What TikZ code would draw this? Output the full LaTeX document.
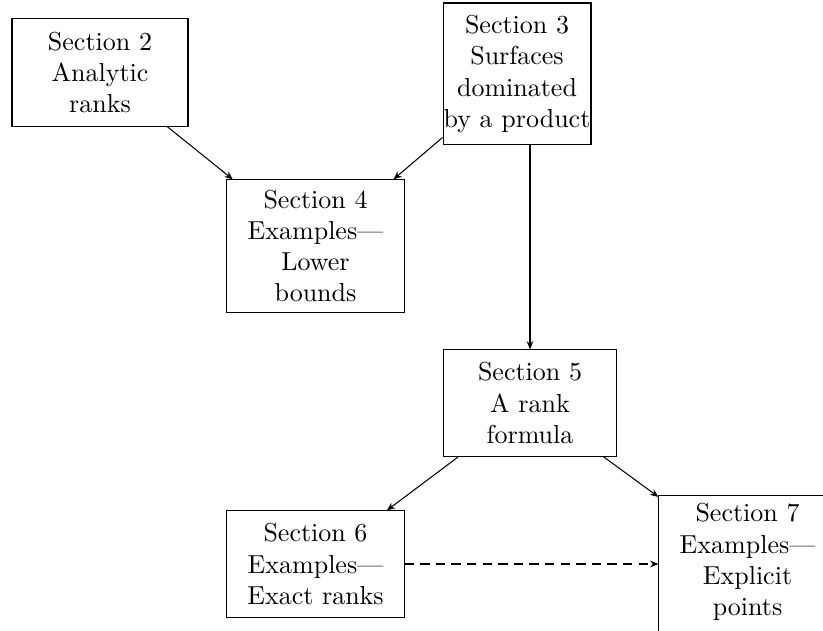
\documentclass[tikz,border=0pt]{standalone}
\usetikzlibrary{arrows.meta}
\begin{document}
\begin{tikzpicture}[x=0.3846pt,y=-0.3846pt,
  secbox/.style={draw,align=center,inner sep=0pt,font=\normalsize},
  arr/.style={-{Stealth[length=3.2pt,width=2.6pt]},line width=0.4pt},
  darr/.style={arr,dash pattern=on 3.6pt off 2.4pt}]
\useasboundingbox (0,0) rectangle (823,631);
\node[secbox,minimum width=67.7pt,minimum height=41.2pt] (s2) at (100,72.5) {Section 2\\Analytic\\ranks};
\node[secbox,minimum width=56.9pt,minimum height=54.6pt] (s3) at (517,74) {Section 3\\Surfaces\\dominated\\by a product};
\node[secbox,minimum width=68.1pt,minimum height=50.8pt] (s4) at (315.5,246) {Section 4\\Examples---\\Lower\\bounds};
\node[secbox,minimum width=66.2pt,minimum height=40.8pt] (s5) at (530,403) {Section 5\\A rank\\formula};
\node[secbox,minimum width=68.1pt,minimum height=40.8pt] (s6) at (315.5,564) {Section 6\\Examples---\\Exact ranks};
\node[align=center,inner sep=0pt,minimum width=68.1pt,minimum height=50.8pt] (s7) at (747.5,562) {Section 7\\Examples---\\Explicit\\points};
\draw (s7.north west) rectangle ++(75pt,-70pt);
\draw[arr] (s2) -- (s4);
\draw[arr] (s3) -- (s4);
\draw[arr] (s3.south -| s5.north) -- (s5.north);
\draw[arr] (s5) -- (s6);
\draw[arr] (s5) -- (s7);
\draw[darr] (s6.east) -- (s6.east -| s7.west);
\end{tikzpicture}
\end{document}
